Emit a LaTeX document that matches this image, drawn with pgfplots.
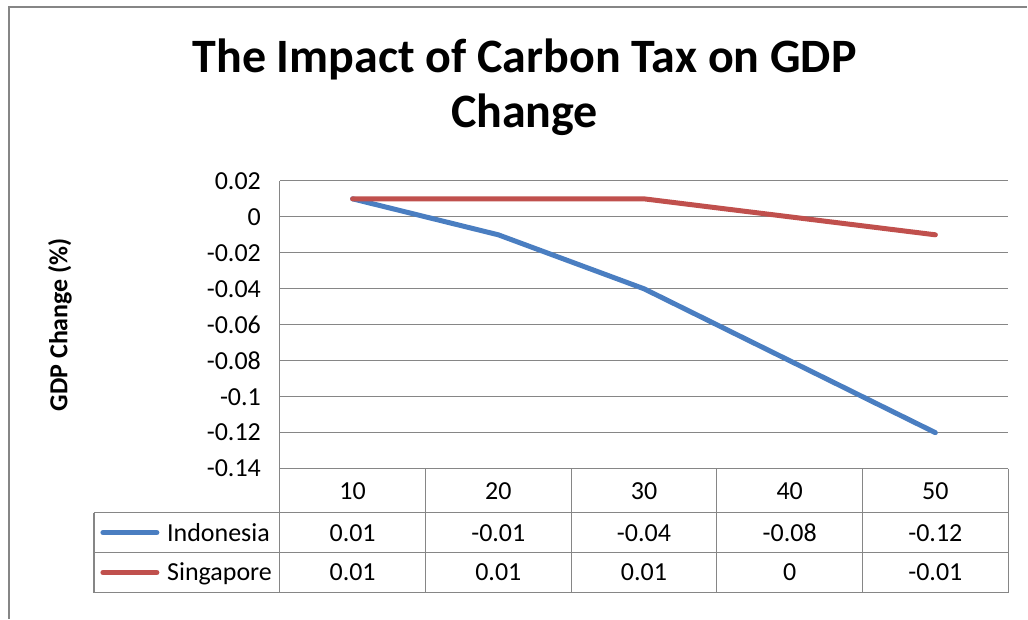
\documentclass[border=0pt]{standalone}
\usepackage{pgfplots}
\pgfplotsset{compat=1.18}
\usepackage{fontspec}
\setmainfont{Carlito}
\definecolor{indo}{RGB}{74,126,193}
\definecolor{sing}{RGB}{192,80,77}
\definecolor{gridc}{RGB}{134,134,134}
\begin{document}
\begin{tikzpicture}
\begin{axis}[at={(210pt,112.5pt)}, anchor=south west,
  width=546.75pt, height=216pt, scale only axis,
  xmin=5, xmax=55, ymin=-0.14, ymax=0.02,
  axis x line=none, axis y line=left,
  axis line style={-,gridc,line width=0.9pt},
  xtick=\empty,
  ytick={-0.14,-0.12,-0.1,-0.08,-0.06,-0.04,-0.02,0,0.02},
  yticklabels={-0.14,-0.12,-0.1,-0.08,-0.06,-0.04,-0.02,0,0.02},
  yticklabel style={font=\fontsize{19.5}{23}\selectfont, anchor=east, inner sep=0pt, xshift=-14pt},
  major tick length=0pt, tick style={draw=none},
  ymajorgrids, grid style={gridc,line width=0.9pt},
  clip=false]
\addplot[indo, line width=3.75pt, line cap=round, line join=round] coordinates {(10,0.01) (20,-0.01) (30,-0.04) (40,-0.08) (50,-0.12)};
\addplot[sing, line width=3.75pt, line cap=round, line join=round] coordinates {(10,0.01) (20,0.01) (30,0.01) (40,0) (50,-0.01)};
\end{axis}
\begin{scope}[x=0.75pt,y=0.75pt]
\path (0,0) rectangle (1028,619);
\draw[gridc,line width=1.2pt] (9,0) -- (9,612) -- (1028,612);
% title
\node[anchor=base, font=\bfseries\fontsize{36}{41}\selectfont] at (525,546) {The Impact of Carbon Tax on GDP};
\node[anchor=base, font=\bfseries\fontsize{36}{41}\selectfont] at (525,491) {Change};
% y label
\node[rotate=90, font=\bfseries\fontsize{19.5}{23}\selectfont] at (60,294) {GDP Change (\%)};
% data table
\begin{scope}[gridc, line width=0.9pt]
\draw (280,150) -- (1009,150);
\draw (94,106) -- (1009,106);
\draw (94,66) -- (1009,66);
\draw (94,26) -- (1009,26);
\foreach \xx in {280,425.8,571.6,717.4,863.2,1009} {\draw (\xx,150) -- (\xx,26);}
\draw (94,106) -- (94,26);
\end{scope}
\begin{scope}[every node/.style={anchor=base, font=\fontsize{19.5}{23}\selectfont, inner sep=0pt}]
\node at (352.9,119) {10};
\node at (498.7,119) {20};
\node at (644.5,119) {30};
\node at (790.3,119) {40};
\node at (936.1,119) {50};
\node at (352.9,77) {0.01};
\node at (498.7,77) {-0.01};
\node at (644.5,77) {-0.04};
\node at (790.3,77) {-0.08};
\node at (936.1,77) {-0.12};
\node at (352.9,38) {0.01};
\node at (498.7,38) {0.01};
\node at (644.5,38) {0.01};
\node at (790.3,38) {0};
\node at (936.1,38) {-0.01};
\node[anchor=base west] at (167,77) {Indonesia};
\node[anchor=base west] at (167,38) {Singapore};
\end{scope}
\draw[indo, line width=3.75pt, line cap=round] (103,86) -- (157,86);
\draw[sing, line width=3.75pt, line cap=round] (103,46) -- (157,46);
\end{scope}
\end{tikzpicture}
\end{document}
